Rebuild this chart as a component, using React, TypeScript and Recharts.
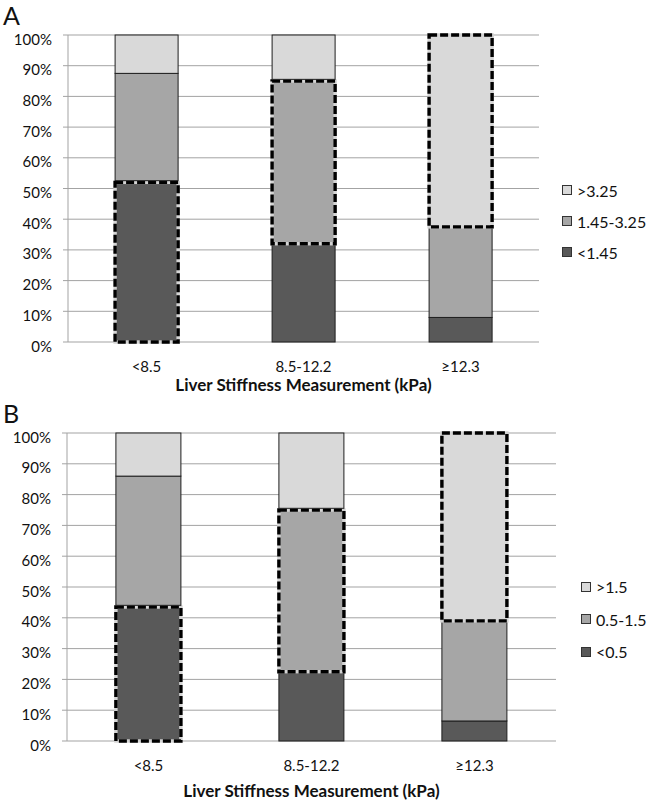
import React from "react";
import {
  BarChart,
  Bar,
  XAxis,
  YAxis,
  CartesianGrid,
  Legend,
} from "recharts";

const FONT = "Lato, 'Open Sans', sans-serif";
const GRID = "#a3a3a3";
const COLORS = ["#595959", "#a6a6a6", "#d9d9d9"];

const categories = ["<8.5", "8.5-12.2", "≥12.3"];
const yTicks = [0, 10, 20, 30, 40, 50, 60, 70, 80, 90, 100];

// panel A: serum marker groups
const namesA = ["<1.45", "1.45-3.25", ">3.25"];
const lowA = [52, 32, 8];
const midA = [35.5, 53, 29.5];
const highA = [12.5, 15, 62.5];
// index of the outlined (dashed) group for each category
const emphasisA = [0, 1, 2];

// panel B
const namesB = ["<0.5", "0.5-1.5", ">1.5"];
const lowB = [43.5, 22.5, 6.5];
const midB = [42.5, 52.5, 32.5];
const highB = [14, 25, 61];
const emphasisB = [0, 1, 2];

const YTick = ({ x, y, payload }: any) => (
  <text
    x={x}
    y={y + 3.5}
    textAnchor="end"
    dominantBaseline="central"
    fontSize={15}
    fontFamily={FONT}
    fill="#111"
  >
    {payload.value}%
  </text>
);

function makeShape(series: number, emphasis: number[]) {
  return (props: any) => {
    const { x, y, width, height, payload } = props;
    const cat = categories.indexOf(payload.name);
    const hl = emphasis[cat] === series;
    const aboveHl = emphasis[cat] === series - 1;
    const h = aboveHl ? Math.max(height - 1.7, 0) : height;
    return (
      <g>
        <rect
          x={x}
          y={y}
          width={width}
          height={h}
          fill={COLORS[series]}
          stroke={hl ? "none" : "#1e1e1e"}
          strokeWidth={1}
        />
        {hl && (
          <>
            <rect x={x} y={y} width={width} height={height} fill="none" stroke="#d4d4d4" strokeWidth={3.4} />
            <rect
              x={x}
              y={y}
              width={width}
              height={height}
              fill="none"
              stroke="#000"
              strokeWidth={3.4}
              strokeDasharray="8 3"
            />
          </>
        )}
      </g>
    );
  };
}

const LegendBox = ({ names, rowH }: { names: string[]; rowH: number }) => (
  <div style={{ fontFamily: FONT, fontSize: 16, color: "#111" }}>
    {[2, 1, 0].map((i) => (
      <div key={i} style={{ display: "flex", alignItems: "center", height: rowH }}>
        <span
          style={{
            display: "inline-block",
            width: 8,
            height: 8,
            background: COLORS[i],
            border: "1px solid #333",
            marginRight: 5,
          }}
        />
        <span>{names[i]}</span>
      </div>
    ))}
  </div>
);

interface PanelProps {
  names: string[];
  low: number[];
  mid: number[];
  high: number[];
  emphasis: number[];
  height: number;
  top: number;
  right: number;
  yWidth: number;
  xHeight: number;
  titleOffset: number;
  legendLeft: number;
  legendTop: number;
  legendRow: number;
}

function Panel(p: PanelProps) {
  const data = categories.map((name, i) => ({
    name,
    low: p.low[i],
    mid: p.mid[i],
    high: p.high[i],
  }));
  return (
    <BarChart
      width={649}
      height={p.height}
      data={data}
      margin={{ top: p.top, right: p.right, bottom: 0, left: 0 }}
      barCategoryGap="30%"
    >
      <CartesianGrid vertical={false} stroke={GRID} xAxisId="cat" />
      <XAxis
        xAxisId="edge"
        type="number"
        domain={[0, 3]}
        ticks={[0, 1, 2, 3]}
        tick={false}
        tickSize={6}
        tickLine={{ stroke: GRID }}
        axisLine={{ stroke: GRID }}
        height={0}
        allowDataOverflow
      />
      <XAxis
        xAxisId="cat"
        dataKey="name"
        axisLine={false}
        tickLine={false}
        tickSize={0}
        tickMargin={19}
        height={p.xHeight}
        tick={{ fill: "#111", fontSize: 15, fontFamily: FONT }}
        label={{
          value: "Liver Stiffness Measurement (kPa)",
          position: "insideBottom",
          offset: p.titleOffset,
          fill: "#111",
          fontSize: 17,
          fontWeight: "bold",
          fontFamily: FONT,
        }}
      />
      <YAxis
        width={p.yWidth}
        domain={[0, 100]}
        ticks={yTicks}
        tickSize={5}
        tickMargin={11}
        tickLine={{ stroke: GRID }}
        axisLine={{ stroke: GRID }}
        tick={<YTick />}
      />
      <Legend
        layout="horizontal"
        verticalAlign="middle"
        align="center"
        wrapperStyle={{ left: p.legendLeft, top: p.legendTop, width: "auto" }}
        content={() => <LegendBox names={p.names} rowH={p.legendRow} />}
      />
      <Bar xAxisId="cat" dataKey="low" name={p.names[0]} stackId="s" fill={COLORS[0]} shape={makeShape(0, p.emphasis)} isAnimationActive={false} />
      <Bar xAxisId="cat" dataKey="mid" name={p.names[1]} stackId="s" fill={COLORS[1]} shape={makeShape(1, p.emphasis)} isAnimationActive={false} />
      <Bar xAxisId="cat" dataKey="high" name={p.names[2]} stackId="s" fill={COLORS[2]} shape={makeShape(2, p.emphasis)} isAnimationActive={false} />
    </BarChart>
  );
}

export default function App() {
  return (
    <div
      style={{
        position: "absolute",
        left: 0,
        top: 0,
        width: 649,
        height: 802,
        background: "#fff",
        fontFamily: FONT,
      }}
    >
      <div style={{ position: "absolute", left: 0, top: 0 }}>
        <Panel
          names={namesA}
          low={lowA}
          mid={midA}
          high={highA}
          emphasis={emphasisA}
          height={400}
          top={35}
          right={110}
          yWidth={68}
          xHeight={58}
          titleOffset={9}
          legendLeft={562}
          legendTop={174.5}
          legendRow={31}
        />
      </div>
      <div style={{ position: "absolute", left: 0, top: 400 }}>
        <Panel
          names={namesB}
          low={lowB}
          mid={midB}
          high={highB}
          emphasis={emphasisB}
          height={402}
          top={33}
          right={93}
          yWidth={67}
          xHeight={61}
          titleOffset={5}
          legendLeft={581}
          legendTop={170.5}
          legendRow={32.5}
        />
      </div>
      <div style={{ position: "absolute", left: 3, top: 3, fontSize: 25, lineHeight: "25px", fontFamily: FONT, color: "#111" }}>A</div>
      <div style={{ position: "absolute", left: 3, top: 401, fontSize: 25, lineHeight: "25px", fontFamily: FONT, color: "#111" }}>B</div>
    </div>
  );
}
